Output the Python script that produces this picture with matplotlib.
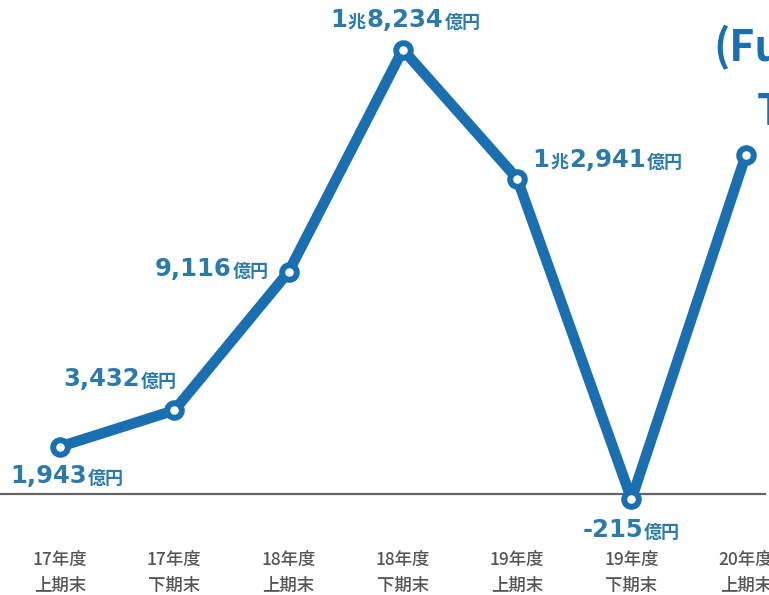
import matplotlib
matplotlib.use("Agg")
import matplotlib.pyplot as plt

plt.rcParams['font.family'] = ['Noto Sans CJK JP', 'DejaVu Sans']

periods_top = ["17年度", "17年度", "18年度", "18年度", "19年度", "19年度", "20年度"]
periods_bottom = ["上期末", "下期末", "上期末", "下期末", "上期末", "下期末", "上期末"]
values = [1943, 3432, 9116, 18234, 12941, -215, 13900]
label_parts = [
    [("1,943", "big"), ("億円", "small")],
    [("3,432", "big"), ("億円", "small")],
    [("9,116", "big"), ("億円", "small")],
    [("1", "big"), ("兆", "small"), ("8,234", "big"), ("億円", "small")],
    [("1", "big"), ("兆", "small"), ("2,941", "big"), ("億円", "small")],
    [("-215", "big"), ("億円", "small")],
    None,
]
label_offsets = [(-50, -29), (-111, 31), (-134, 3), (-73, 30), (15, 19), (-49, -31), None]

LINE = "#1a6fb0"
TEXT = "#2a7aac"
GRAY = "#555555"

fig = plt.figure(figsize=(7.69, 5.95), dpi=100)
ax = fig.add_axes([0, 0, 1, 1])
x = list(range(len(values)))
ax.set_xlim(-0.525, 6.203)
ax.set_ylim(-4144, 20271)
ax.axis("off")

ax.axhline(0, xmin=0, xmax=0.995, color="#666666", lw=1.6, zorder=1)
ax.plot(x, values, color=LINE, lw=7.6, solid_capstyle="round", zorder=2,
        marker="o", ms=10.5, mew=4.3, mfc="white", mec=LINE)

styles = {
    "big": dict(fontsize=17.5, family=["DejaVu Sans", "Noto Sans CJK JP"], fontweight="bold"),
    "small": dict(fontsize=13, family=["Noto Sans CJK JP", "DejaVu Sans"], fontweight="bold"),
}
for i, (parts, off) in enumerate(zip(label_parts, label_offsets)):
    if parts is None:
        continue
    prev = None
    for j, (txt, kind) in enumerate(parts):
        if j == 0:
            prev = ax.annotate(txt, xy=(x[i], values[i]), xytext=off,
                               textcoords="offset pixels", ha="left", va="center",
                               color=TEXT, **styles[kind])
        else:
            prev = ax.annotate(txt, xy=(1, 0), xycoords=prev, xytext=(1, 0),
                               textcoords="offset pixels", ha="left", va="bottom",
                               color=TEXT, **styles[kind])

for i in x:
    ax.annotate(periods_top[i], xy=(x[i], 0), xycoords=("data", "axes fraction"),
                xytext=(0, 35), textcoords="offset pixels", ha="center", va="center",
                fontsize=12.5, color=GRAY, fontweight="medium")
    ax.annotate(periods_bottom[i], xy=(x[i], 0), xycoords=("data", "axes fraction"),
                xytext=(0, 9), textcoords="offset pixels", ha="center", va="center",
                fontsize=12.5, color=GRAY, fontweight="medium")

fig.text(713 / 769, 1 - 48 / 595, "(Fu", fontsize=31, fontweight="bold",
         color=LINE, ha="left", va="center")
fig.text(757 / 769, 1 - 112 / 595, "T", fontsize=31, fontweight="bold",
         color=LINE, ha="left", va="center")

fig.savefig("out.png", dpi=100, facecolor="white")
